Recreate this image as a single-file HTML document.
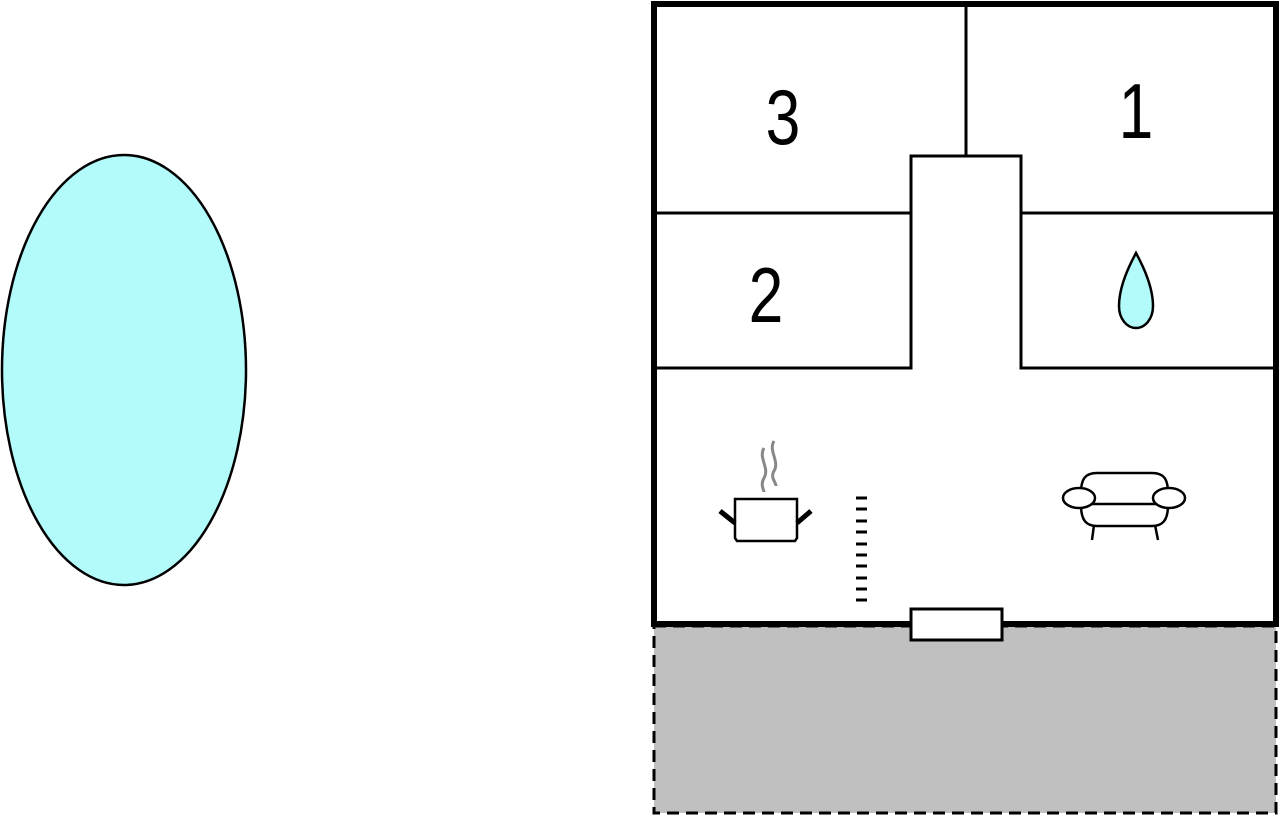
<!DOCTYPE html>
<html><head><style>body{margin:0;background:#fff}svg{display:block}</style></head><body>
<svg width="1280" height="817" viewBox="0 0 1280 817" xmlns="http://www.w3.org/2000/svg">
<ellipse cx="124" cy="370" rx="122" ry="215" fill="#b3fbfb" stroke="#000" stroke-width="2.5"/>
<rect x="654" y="626" width="622" height="187" fill="#c0c0c0" stroke="#000" stroke-width="3" stroke-dasharray="12,7"/>
<rect x="654" y="4" width="622" height="620" fill="#fff" stroke="#000" stroke-width="6"/>
<g stroke="#000" stroke-width="3" fill="none">
<line x1="966" y1="4" x2="966" y2="156"/>
<polyline points="654,213 911,213 911,156 1021,156 1021,213 1276,213"/>
<polyline points="654,368 911,368 911,213"/>
<polyline points="1276,368 1021,368 1021,213"/>
</g>
<rect x="911" y="609" width="91" height="31" fill="#fff" stroke="#000" stroke-width="3"/>
<g font-family="Liberation Sans, sans-serif" font-size="78" text-anchor="middle" fill="#000">
<text transform="translate(783,144) scale(0.8,1)">3</text>
<text transform="translate(1136,138) scale(0.8,1)">1</text>
<text transform="translate(766,322) scale(0.8,1)">2</text>
</g>
<path d="M1136,253 C1124,275 1119,292 1119,306 C1119,319 1127,328 1136,328 C1145,328 1153,319 1153,306 C1153,292 1148,275 1136,253 Z" fill="#b3fbfb" stroke="#000" stroke-width="2.5"/>
<g stroke="#888" stroke-width="3" fill="none">
<path d="M764,448 C758,458 770,468 764,478 C760,485 764,490 764,492"/>
<path d="M774,441 C768,451 780,461 774,471 C770,478 776,482 776,486"/>
</g>
<path d="M735,499 H797 V538 L795,541 H737 L735,538 Z" fill="#fff" stroke="#000" stroke-width="2.5"/>
<g stroke="#000" stroke-width="5">
<line x1="720" y1="511" x2="735" y2="523"/>
<line x1="797" y1="523" x2="811" y2="511"/>
</g>
<g stroke="#000" stroke-width="3">
<line x1="856" y1="498" x2="867" y2="498"/><line x1="856" y1="509" x2="867" y2="509"/><line x1="856" y1="521" x2="867" y2="521"/><line x1="856" y1="532" x2="867" y2="532"/><line x1="856" y1="544" x2="867" y2="544"/><line x1="856" y1="555" x2="867" y2="555"/><line x1="856" y1="566" x2="867" y2="566"/><line x1="856" y1="578" x2="867" y2="578"/><line x1="856" y1="589" x2="867" y2="589"/><line x1="856" y1="600" x2="867" y2="600"/>
</g>
<g stroke="#000" stroke-width="2.5" fill="#fff">
<path d="M1081,493 C1081,478 1086,473 1097,473 H1152 C1163,473 1168,478 1168,493"/>
<path d="M1081,505 C1081,520 1086,526 1097,526 H1152 C1163,526 1168,520 1168,505"/>
<line x1="1094" y1="525" x2="1092" y2="540"/>
<line x1="1155" y1="525" x2="1158" y2="540"/>
<line x1="1090" y1="504" x2="1158" y2="504"/>
<ellipse cx="1079" cy="498" rx="16" ry="10"/>
<ellipse cx="1169" cy="498" rx="16" ry="10"/>
</g>
</svg>
</body></html>
